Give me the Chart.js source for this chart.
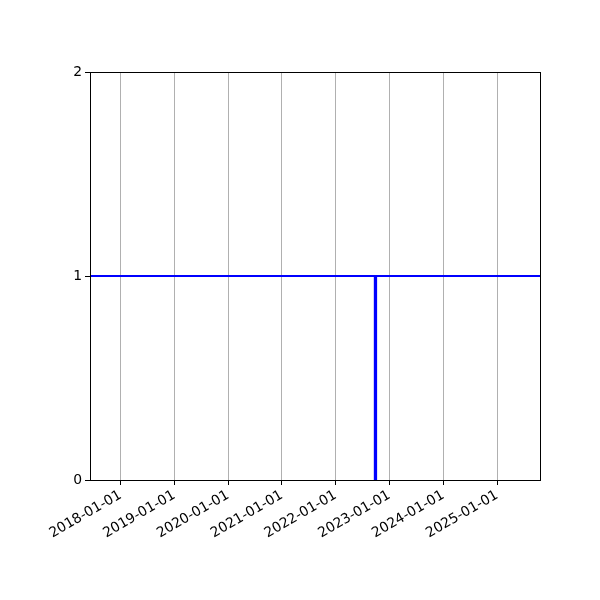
<!DOCTYPE html>
<html>
<head>
<meta charset="utf-8">
<script src="https://cdn.jsdelivr.net/npm/chart.js@4/dist/chart.umd.min.js"></script>
<style>
  html, body { margin: 0; padding: 0; background: #fff; }
  #wrap { width: 600px; height: 600px; }
</style>
</head>
<body>
<div id="wrap"><canvas id="chart" width="600" height="600"></canvas></div>
<script>
// x axis limits and yearly ticks
const xRange = ['2017-06-08', '2025-10-19'];
const xTickDates = ['2018-01-01', '2019-01-01', '2020-01-01', '2021-01-01',
                    '2022-01-01', '2023-01-01', '2024-01-01', '2025-01-01'];
const yTicks = [0, 1, 2];

// the level line and the single event
const levelValue = 1;
const eventDate = '2022-09-28';
const eventValues = [0, 1];

const t = d => Date.parse(d + 'T00:00:00Z');
const xMin = t(xRange[0]);
const xMax = t(xRange[1]);

function fmtDate(ms) {
    const d = new Date(ms);
    const p = n => String(n).padStart(2, '0');
    return d.getUTCFullYear() + '-' + p(d.getUTCMonth() + 1) + '-' + p(d.getUTCDate());
}

// matplotlib style box round the axes
const frame = {
    id: 'frame',
    afterDatasetsDraw(chart) {
        const a = chart.chartArea, c = chart.ctx;
        c.save();
        c.strokeStyle = '#000';
        c.lineWidth = 1;
        c.strokeRect(Math.round(a.left) + 0.5, Math.round(a.top) + 0.5,
                     Math.round(a.right - a.left), Math.round(a.bottom - a.top));
        c.restore();
    }
};

const font = { family: 'DejaVu Sans', size: 13.9 };

new Chart(document.getElementById('chart').getContext('2d'), {
    type: 'line',
    data: {
        datasets: [{
            data: [{ x: xMin, y: levelValue }, { x: xMax, y: levelValue }],
            borderColor: '#0000ff',
            borderWidth: 2,
            pointRadius: 0
        }, {
            data: eventValues.map(v => ({ x: t(eventDate), y: v })),
            borderColor: '#0000ff',
            borderWidth: 3.3,
            pointRadius: 0
        }]
    },
    options: {
        responsive: false,
        animation: false,
        layout: { padding: { top: 72, right: 60, left: 0, bottom: 0 } },
        plugins: {
            legend: { display: false },
            tooltip: { enabled: false }
        },
        scales: {
            x: {
                type: 'linear',
                min: xMin,
                max: xMax,
                afterBuildTicks: s => { s.ticks = xTickDates.map(d => ({ value: t(d) })); },
                afterFit: s => { s.height = 120; },
                border: { display: false },
                grid: {
                    color: '#b0b0b0',
                    lineWidth: 1,
                    tickColor: '#000',
                    tickLength: 5
                },
                ticks: {
                    color: '#000',
                    font: font,
                    padding: 2,
                    minRotation: 30,
                    maxRotation: 30,
                    callback: v => fmtDate(v)
                }
            },
            y: {
                min: 0,
                max: 2,
                afterBuildTicks: s => { s.ticks = yTicks.map(v => ({ value: v })); },
                afterFit: s => { s.width = 90; },
                border: { display: false },
                grid: {
                    drawOnChartArea: false,
                    tickColor: '#000',
                    tickLength: 5
                },
                ticks: {
                    color: '#000',
                    font: font,
                    padding: 3
                }
            }
        }
    },
    plugins: [frame]
});
</script>
</body>
</html>
